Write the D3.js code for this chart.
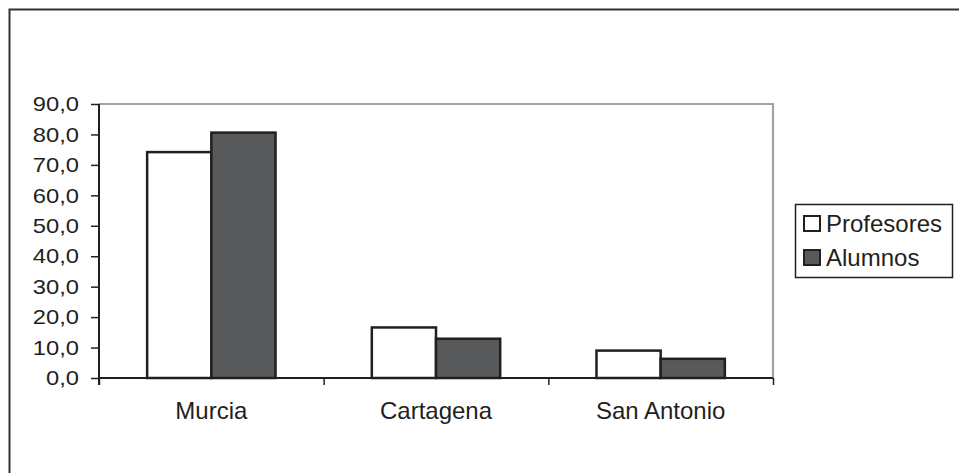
<!DOCTYPE html>
<html>
<head>
<meta charset="utf-8">
<script src="https://cdn.jsdelivr.net/npm/d3@7"></script>
<style>
  html, body { margin: 0; padding: 0; background: #fff; }
  svg { display: block; font-family: "Liberation Sans", Arial, sans-serif; }
</style>
</head>
<body>
<svg id="chart" width="959" height="473"></svg>
<script>
const categories = ["Murcia", "Cartagena", "San Antonio"];
const seriesNames = ["Profesores", "Alumnos"];
const profesores = [74.2, 16.6, 9.0];
const alumnos = [80.6, 12.9, 6.3];
const yTicks = [0, 10, 20, 30, 40, 50, 60, 70, 80, 90];

(function () {
const seriesValues = [profesores, alumnos];
const colors = ["#ffffff", "#58595b"];

const svg = d3.select("#chart");
const pLeft = 99, pRight = 773, pTop = 104, pBottom = 378;

// outer frame (extends past the right/bottom edges)
svg.append("rect")
  .attr("x", 9.5).attr("y", 9.5).attr("width", 1000).attr("height", 500)
  .attr("fill", "none").attr("stroke", "#333").attr("stroke-width", 2);

const x0 = d3.scaleBand().domain(categories).range([pLeft, pRight])
  .paddingInner(1.5 / 3.5).paddingOuter(0.75 / 3.5);
const x1 = d3.scaleBand().domain(seriesNames).range([0, x0.bandwidth()]);
const y = d3.scaleLinear().domain([0, 90]).range([pBottom, pTop]);

// plot area border top & right (gray)
svg.append("path")
  .attr("d", `M${pLeft},${pTop}H${pRight}V${pBottom}`)
  .attr("fill", "none").attr("stroke", "#a3a3a3").attr("stroke-width", 2.2);

// bars
const groups = svg.append("g").selectAll("g")
  .data(seriesNames).join("g");
groups.each(function(s, si) {
  d3.select(this).selectAll("rect")
    .data(categories.map((c, ci) => ({ c, v: seriesValues[si][ci] })))
    .join("rect")
    .attr("x", d => x0(d.c) + x1(s))
    .attr("y", d => y(d.v))
    .attr("width", x1.bandwidth())
    .attr("height", d => y(0) - y(d.v))
    .attr("fill", colors[si])
    .attr("stroke", "#231f20").attr("stroke-width", 2.5);
});

// y axis
const yAxis = svg.append("g").attr("transform", `translate(${pLeft},0)`)
  .call(d3.axisLeft(y).tickValues(yTicks).tickSizeOuter(0).tickSize(8).tickPadding(12)
    .tickFormat(d => d.toFixed(1).replace(".", ",")));
yAxis.select(".domain").attr("stroke", "#231f20").attr("stroke-width", 2)
  .attr("d", `M0,${pTop}V${pBottom + 7}`);
yAxis.selectAll(".tick line").attr("stroke", "#231f20").attr("stroke-width", 1.5);
yAxis.selectAll("text").attr("font-size", 21).attr("fill", "#231f20")
  .attr("font-family", "'Liberation Sans', Arial, sans-serif")
  .each(function() {
    const len = this.getComputedTextLength();
    d3.select(this).attr("textLength", len * 1.13).attr("lengthAdjust", "spacingAndGlyphs");
  });

// x axis boundary ticks
const xb = d3.scaleLinear().domain([0, categories.length]).range([pLeft, pRight]);
const xTickAxis = svg.append("g").attr("transform", `translate(0,${pBottom})`)
  .call(d3.axisBottom(xb).tickValues(d3.range(0, categories.length + 1))
    .tickSize(7).tickSizeOuter(0).tickFormat(""));
xTickAxis.select(".domain").attr("stroke", "#231f20").attr("stroke-width", 2)
  .attr("d", `M${pLeft},0H${pRight}`);
xTickAxis.selectAll(".tick line").attr("stroke", "#231f20").attr("stroke-width", 1.5);

// x labels
const xLab = svg.append("g").attr("transform", `translate(0,${pBottom})`)
  .call(d3.axisBottom(x0).tickSize(0).tickPadding(24));
xLab.select(".domain").remove();
xLab.selectAll("text").attr("font-size", 24).attr("fill", "#231f20")
  .attr("font-family", "'Liberation Sans', Arial, sans-serif");

// legend
const lg = svg.append("g");
lg.append("rect").attr("x", 795.5).attr("y", 204.5).attr("width", 157).attr("height", 73)
  .attr("fill", "#fff").attr("stroke", "#231f20").attr("stroke-width", 1.5);
seriesNames.forEach((s, i) => {
  const yy = 216 + i * 34;
  lg.append("rect").attr("x", 804).attr("y", yy).attr("width", 16).attr("height", 15)
    .attr("fill", colors[i]).attr("stroke", "#231f20").attr("stroke-width", 2);
  lg.append("text").attr("x", 826).attr("y", yy + 16).text(s)
    .attr("font-size", 24).attr("fill", "#231f20");
});
})();
</script>
</body>
</html>
